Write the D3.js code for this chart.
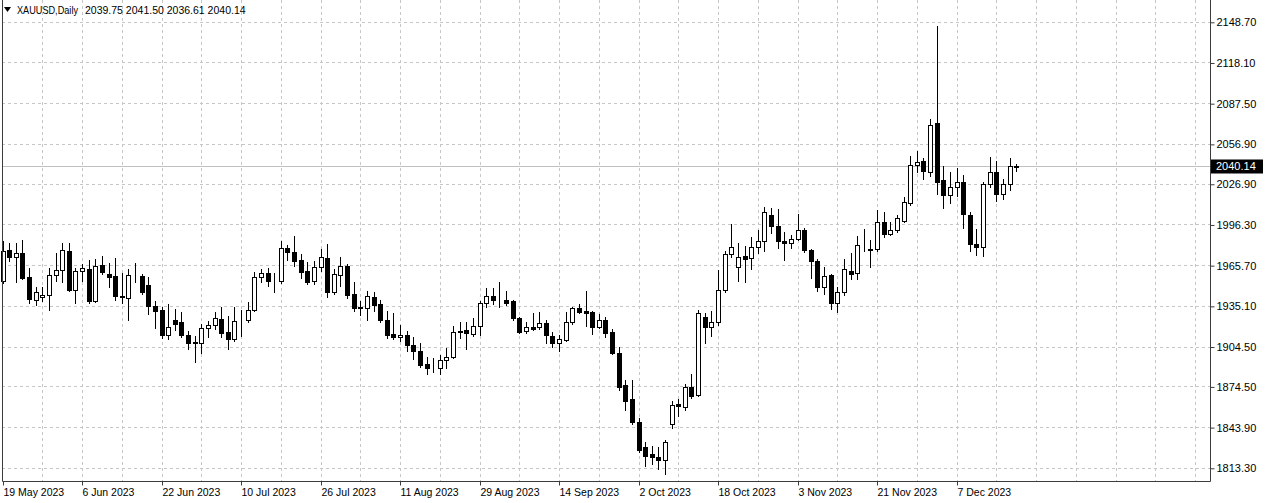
<!DOCTYPE html>
<html><head><meta charset="utf-8">
<script src="https://cdn.jsdelivr.net/npm/d3@7"></script>
<style>
html,body{margin:0;padding:0;background:#fff;}
svg text{font-family:"Liberation Sans",Arial,sans-serif;}
</style></head>
<body>
<svg id="chart" width="1266" height="503"></svg>
<script>
const symbolTitle = "XAUUSD,Daily";
const lastBarOHLC = ["2039.75","2041.50","2036.61","2040.14"];
const currentPrice = 2040.14;
const yTicks = [2148.70, 2118.10, 2087.50, 2056.90, 2026.90, 1996.30, 1965.70, 1935.10, 1904.50, 1874.50, 1843.90, 1813.30];
const xTickLabels = ["19 May 2023","6 Jun 2023","22 Jun 2023","10 Jul 2023","26 Jul 2023","11 Aug 2023","29 Aug 2023","14 Sep 2023","2 Oct 2023","18 Oct 2023","3 Nov 2023","21 Nov 2023","7 Dec 2023"];
const barsPerLabel = 12;
const barsPerGrid = 6;

const opens = [1954.0,1977.0,1972.0,1974.7,1957.0,1939.4,1941.4,1943.4,1958.0,1962.0,1976.5,1947.0,1961.0,1962.7,1939.0,1965.7,1959.4,1957.7,1942.7,1940.9,
1957.5,1957.7,1950.7,1935.1,1931.9,1913.1,1924.3,1922.6,1913.1,1907.6,1907.5,1918.3,1920.6,1925.1,1915.1,1910.1,1924.8,1924.4,1931.9,1957.0,
1959.7,1953.7,1953.9,1978.5,1975.7,1969.5,1961.4,1953.9,1964.4,1970.8,1945.2,1958.4,1965.2,1944.0,1934.1,1933.4,1941.4,1936.4,1924.6,1913.8,
1911.3,1913.5,1906.0,1901.2,1891.3,1888.5,1888.3,1894.3,1896.3,1915.1,1917.1,1913.8,1919.6,1936.9,1942.7,1939.6,1939.6,1938.4,1925.6,1916.3,
1919.3,1919.3,1922.1,1912.6,1907.5,1909.6,1922.6,1933.1,1931.4,1930.6,1919.3,1924.3,1915.6,1900.0,1875.5,1864.9,1847.9,1828.6,1823.6,1821.1,
1819.3,1846.1,1861.2,1859.2,1873.7,1868.0,1926.4,1919.3,1922.6,1946.9,1974.0,1964.4,1972.7,1970.8,1979.0,1984.0,2003.6,1995.3,1983.5,1982.3,
1985.7,1992.0,1977.0,1968.5,1949.4,1958.4,1937.6,1945.2,1961.0,1959.7,1980.2,1977.3,1977.8,1998.3,1989.0,1992.0,1999.0,2012.4,2041.2,2044.2,
2035.4,2072.5,2029.7,2018.6,2024.8,2027.9,2003.3,1981.5,1979.5,2026.6,2035.6,2019.0,2026.6,2039.75];
const highs = [1984.0,1982.0,1982.7,1984.8,1963.9,1949.6,1949.4,1963.2,1974.7,1982.7,1982.7,1963.9,1966.5,1969.7,1970.2,1972.7,1967.0,1970.7,1959.7,1963.0,
1967.3,1959.0,1956.9,1938.9,1933.9,1936.4,1933.0,1930.1,1916.3,1912.6,1921.8,1923.5,1930.8,1934.6,1927.1,1933.9,1931.9,1938.1,1960.2,1962.7,
1963.2,1959.7,1984.0,1981.0,1987.3,1974.0,1967.7,1969.0,1977.8,1981.5,1962.7,1972.2,1966.5,1953.4,1938.4,1946.4,1945.7,1939.6,1931.4,1929.6,
1920.8,1916.0,1911.3,1906.8,1896.3,1895.8,1898.3,1903.3,1919.6,1922.6,1923.1,1925.9,1938.4,1948.4,1948.4,1952.7,1946.4,1939.5,1927.0,1923.3,
1929.4,1930.8,1924.5,1915.6,1913.3,1930.1,1934.5,1936.4,1946.4,1931.4,1928.9,1926.5,1917.6,1903.8,1879.0,1879.5,1851.0,1832.4,1829.9,1828.6,
1834.1,1863.2,1865.0,1876.2,1884.2,1931.9,1929.5,1931.4,1962.2,1976.0,1996.6,1982.3,1980.3,1986.5,1992.0,2009.1,2009.0,2007.8,1991.0,1988.0,
2004.5,1993.5,1977.8,1970.2,1964.4,1959.0,1948.9,1970.2,1974.5,1987.8,1992.8,1984.8,2007.1,2005.8,1997.8,2003.6,2017.3,2048.0,2051.7,2046.6,
2075.5,2145.7,2040.4,2035.4,2039.1,2033.4,2005.3,1993.0,2028.0,2047.4,2044.2,2030.4,2046.6,2041.50];
const lows = [1952.0,1969.0,1953.2,1955.0,1937.6,1935.9,1938.9,1931.9,1953.9,1952.7,1946.0,1937.6,1953.9,1937.6,1938.0,1959.0,1948.9,1939.6,1937.6,1924.6,
1952.7,1943.9,1928.9,1918.3,1911.0,1910.1,1917.0,1911.3,1902.6,1892.5,1900.0,1912.0,1917.6,1912.0,1902.5,1908.8,1912.6,1923.1,1931.4,1952.7,
1950.2,1945.2,1952.0,1969.5,1965.2,1956.4,1951.4,1951.4,1961.4,1941.9,1943.9,1950.2,1940.9,1931.4,1928.4,1924.6,1931.4,1922.6,1911.0,1910.0,
1909.0,1901.5,1895.0,1888.8,1884.2,1885.5,1884.2,1888.3,1895.8,1910.8,1902.6,1912.6,1913.3,1934.4,1936.4,1934.4,1935.6,1924.6,1915.0,1915.0,
1916.8,1917.6,1906.8,1904.5,1900.8,1908.8,1921.8,1929.6,1919.6,1913.8,1918.8,1912.0,1898.8,1871.7,1856.7,1846.2,1825.0,1814.3,1816.1,1812.3,
1809.0,1843.6,1852.4,1857.0,1866.0,1867.0,1907.5,1912.6,1921.0,1945.2,1971.5,1954.0,1952.7,1962.7,1975.2,1976.5,1990.2,1978.5,1969.5,1978.5,
1984.5,1975.7,1956.0,1946.4,1943.9,1932.6,1930.8,1943.4,1955.2,1955.2,1976.5,1964.4,1976.0,1986.5,1988.5,1991.0,1998.5,2011.1,2035.4,2030.4,
2032.9,2019.1,2009.0,2012.8,2017.8,1993.5,1976.0,1973.0,1972.7,2024.1,2014.1,2015.4,2022.4,2036.61];
const closes = [1976.5,1972.0,1974.7,1956.4,1940.6,1945.7,1943.4,1958.4,1962.0,1977.0,1947.0,1961.4,1963.2,1938.9,1965.0,1960.7,1957.0,1942.7,1941.4,1958.4,
1957.9,1945.2,1935.1,1931.4,1913.1,1919.3,1921.8,1913.1,1907.5,1907.0,1918.8,1920.8,1925.6,1914.6,1910.1,1923.9,1924.4,1931.9,1957.0,1959.7,
1953.9,1954.1,1978.5,1975.7,1969.0,1960.7,1953.4,1964.4,1971.5,1945.2,1958.9,1964.7,1943.4,1933.4,1933.7,1942.2,1935.9,1924.6,1913.4,1911.8,
1913.1,1906.0,1901.2,1890.8,1888.3,1888.1,1894.5,1896.8,1915.1,1916.3,1914.3,1919.6,1936.9,1942.7,1939.4,1939.2,1937.6,1925.6,1915.8,1919.3,
1918.0,1922.1,1913.3,1907.1,1910.1,1923.1,1933.1,1930.1,1929.4,1919.3,1924.3,1915.0,1899.6,1873.7,1863.7,1847.4,1826.6,1821.8,1821.1,1819.3,
1832.4,1860.7,1859.4,1873.7,1867.4,1929.4,1919.3,1922.6,1946.9,1974.0,1979.5,1972.2,1970.2,1979.0,1984.0,2005.3,1995.3,1983.5,1982.3,1985.3,
1992.0,1977.0,1969.0,1949.4,1957.7,1937.6,1945.2,1962.7,1959.0,1980.8,1979.8,1977.7,1997.8,1989.0,1992.0,2001.5,2013.0,2040.9,2043.6,2036.7,
2071.0,2028.6,2018.6,2024.8,2028.6,2004.1,1981.5,1979.0,2027.0,2035.6,2019.0,2027.0,2040.2,2040.14];

const svg = d3.select("#chart");
const plotLeft = 2, plotRight = 1210, plotTop = 0, plotBottom = 481;

const x = d3.scaleLinear().domain([0, 180]).range([2.5, 1195]);
const y = d3.scaleLinear().domain([1813.3, 2148.7]).range([467.8, 21.8]);
const px = v => Math.round(x(v)) + 0.5;
const py = v => Math.round(y(v)) + 0.5;

// grid
const gridColor = "#c6c6c6";
const gridBars = d3.range(barsPerGrid, 181, barsPerGrid);
svg.append("g").selectAll("line").data(gridBars).join("line")
  .attr("x1", d => px(d)).attr("x2", d => px(d))
  .attr("y1", plotTop).attr("y2", plotBottom)
  .attr("stroke", gridColor).attr("stroke-dasharray", "3,3");
svg.append("g").selectAll("line").data(yTicks).join("line")
  .attr("x1", plotLeft).attr("x2", plotRight)
  .attr("y1", d => py(d)).attr("y2", d => py(d))
  .attr("stroke", gridColor).attr("stroke-dasharray", "3,3");

// current price line
svg.append("line").attr("x1", plotLeft).attr("x2", plotRight)
  .attr("y1", py(currentPrice)).attr("y2", py(currentPrice))
  .attr("stroke", "#c0c0c0");

// candles
const idx = d3.range(closes.length);
const cg = svg.append("g");
cg.selectAll("line.wick").data(idx).join("line").attr("class","wick")
  .attr("x1", i => px(i)).attr("x2", i => px(i))
  .attr("y1", i => Math.round(y(highs[i]))).attr("y2", i => Math.round(y(lows[i])) + 1)
  .attr("stroke", "#000").attr("stroke-width", 1);
cg.selectAll("rect.body").data(idx).join("rect").attr("class","body")
  .attr("x", i => px(i) - 2)
  .attr("width", 4)
  .attr("y", i => Math.round(y(Math.max(opens[i], closes[i]))) + 0.5)
  .attr("height", i => Math.max(0, Math.round(y(Math.min(opens[i], closes[i]))) - Math.round(y(Math.max(opens[i], closes[i])))))
  .attr("fill", i => closes[i] >= opens[i] ? "#fff" : "#000")
  .attr("stroke", "#000").attr("stroke-width", 1);

// frame
svg.append("path")
  .attr("d", `M${plotLeft+0.5},${plotTop} V${plotBottom+0.5} H${plotRight+0.5} V${plotTop}`)
  .attr("fill", "none").attr("stroke", "#3c3c3c");

// y axis
const yAxis = d3.axisRight(y).tickValues(yTicks).tickFormat(d => d.toFixed(2)).tickSize(4).tickPadding(2);
const ya = svg.append("g").attr("transform", `translate(${plotRight + 0.5},0.5)`).call(yAxis);
ya.select(".domain").remove();
ya.selectAll("text").attr("font-size", "11px").attr("fill", "#000").attr("font-family", "Liberation Sans, Arial, sans-serif");
ya.selectAll("line").attr("stroke", "#3c3c3c");

// x axis
const xTickBars = xTickLabels.map((d, i) => i * barsPerLabel);
const xAxis = d3.axisBottom(x).tickValues(xTickBars).tickFormat((d, i) => xTickLabels[i]).tickSize(4).tickPadding(3);
const xa = svg.append("g").attr("transform", `translate(0.5,${plotBottom + 0.5})`).call(xAxis);
xa.select(".domain").remove();
xa.selectAll(".tick").attr("transform", d => `translate(${Math.round(x(d))},0)`);
xa.selectAll("text").attr("text-anchor", "start").attr("x", 0).attr("font-size", "10.5px").attr("fill", "#000").attr("font-family", "Liberation Sans, Arial, sans-serif");
xa.selectAll("line").attr("stroke", "#3c3c3c");

// current price label
const cpY = py(currentPrice);
svg.append("rect").attr("x", plotRight + 1).attr("y", cpY - 7).attr("width", 52).attr("height", 14).attr("fill", "#000");
svg.append("text").attr("x", plotRight + 6).attr("y", cpY).attr("dy", "0.35em")
  .attr("font-size", "11px").attr("fill", "#fff").text(currentPrice.toFixed(2));

// title
svg.append("path").attr("d", "M4,7 L11,7 L7.5,12 Z").attr("fill", "#000");
svg.append("text").attr("x", 17).attr("y", 14).attr("font-size", "11px").attr("fill", "#000")
  .attr("textLength", 61).attr("lengthAdjust", "spacingAndGlyphs").text(symbolTitle);
svg.append("text").attr("x", 85).attr("y", 14).attr("font-size", "10.5px").attr("fill", "#000")
  .attr("xml:space", "preserve").style("white-space", "pre")
  .text(lastBarOHLC.join(" "));
</script>
</body></html>
